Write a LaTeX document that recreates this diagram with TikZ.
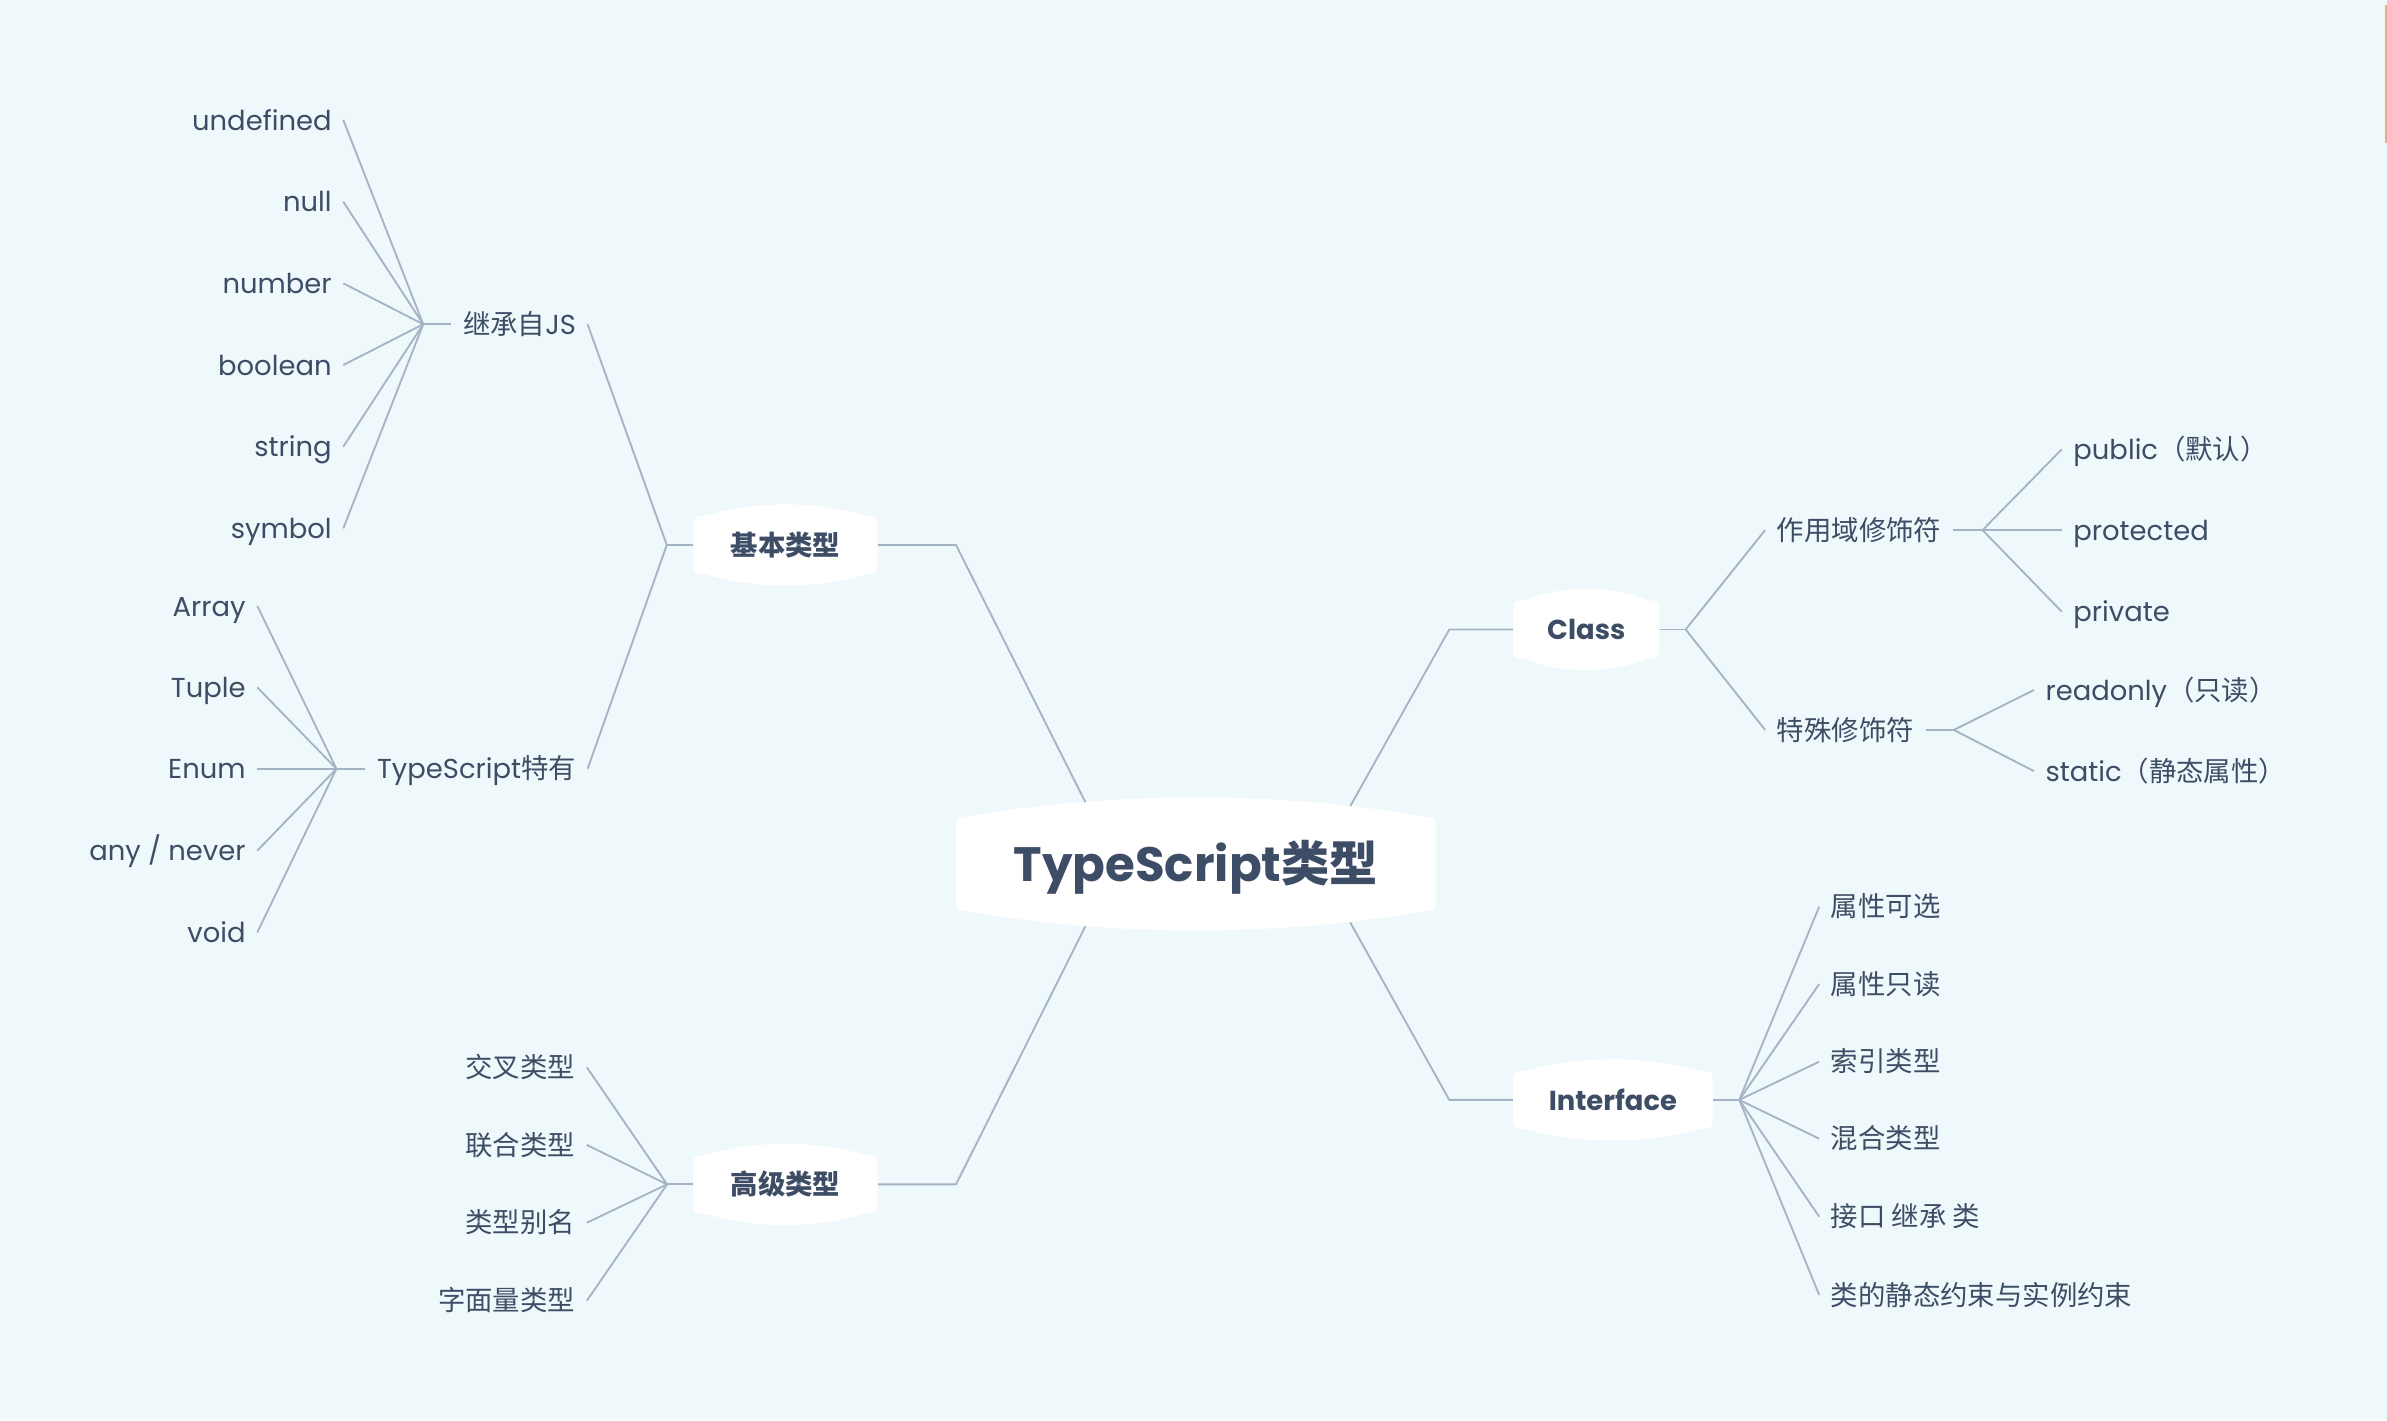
\documentclass[tikz,border=0pt]{standalone}
\usepackage{fontspec}
\setmainfont{Poppins}
\newfontfamily\cjk{Noto Sans CJK SC}
\definecolor{bgc}{HTML}{EFF8FA}
\definecolor{txt}{HTML}{3E4D66}
\definecolor{ln}{HTML}{A5B4C5}
\definecolor{redl}{HTML}{F2A491}
\newcommand\mmbubble[5]{%
 \fill[white] ({#1-#3},{#2-#4+7}) -- ({#1-#3},{#2+#4-7})
   .. controls ({#1-#3},{#2+#4}) .. ({#1-#3+9},{#2+#4+1})
   .. controls ({#1-#3/3},{#2+#4+1.33*#5}) and ({#1+#3/3},{#2+#4+1.33*#5}) .. ({#1+#3-9},{#2+#4+1})
   .. controls ({#1+#3},{#2+#4}) .. ({#1+#3},{#2+#4-7})
   -- ({#1+#3},{#2-#4+7})
   .. controls ({#1+#3},{#2-#4}) .. ({#1+#3-9},{#2-#4-1})
   .. controls ({#1+#3/3},{#2-#4-1.33*#5}) and ({#1-#3/3},{#2-#4-1.33*#5}) .. ({#1-#3+9},{#2-#4-1})
   .. controls ({#1-#3},{#2-#4}) .. cycle;}
\tikzset{
 base/.style={text=txt, inner ysep=0pt, inner xsep=7.5pt, text height=15.8pt, text depth=2.5pt, font=\fontsize{18}{22}\selectfont},
 lf/.style={base, anchor=east},
 rt/.style={base, anchor=west},
 br/.style={text=txt, inner sep=0pt, text height=15.8pt, text depth=2.5pt, minimum height=37pt, font=\fontsize{18}{22}\selectfont\bfseries},
 ctr/.style={text=txt, inner sep=0pt, text height=28pt, text depth=4.4pt, font=\fontsize{31.7}{38}\selectfont\bfseries},
 link/.style={draw=ln, line width=1.2pt, line join=round},
}
\begin{document}
\begin{tikzpicture}[x=1pt,y=-1pt]
\fill[bgc] (0,0) rectangle (1568,933);
\useasboundingbox (0,0) rectangle (1568,933);
\draw[redl, line width=1.2pt] (1567.4,3.3) -- (1567.4,94);

% bubbles
\mmbubble{785.5}{567.5}{157.5}{30.5}{13}
\mmbubble{516}{358}{60.5}{18.5}{8}
\mmbubble{516}{778}{60.5}{18.5}{8}
\mmbubble{1042}{413.5}{48}{18.5}{8}
\mmbubble{1059.5}{722.5}{65.5}{18.5}{8}

% main nodes
\node[ctr, minimum width=315pt, minimum height=61pt] (c) at (785.5,567.5) {TypeScript{\cjk 类型}};
\node[br, minimum width=121pt] (jb) at (516,358) {{\cjk 基本类型}};
\node[br, minimum width=121pt] (gj) at (516,778) {{\cjk 高级类型}};
\node[br, minimum width=96pt] (cls) at (1042,413.5) {Class};
\node[br, minimum width=131pt] (itf) at (1059.5,722.5) {Interface};

% coordinates
\coordinate (c-nw) at (713,527);
\coordinate (c-ne) at (887,529.5);
\coordinate (c-sw) at (713,608.5);
\coordinate (c-se) at (887,606);
\coordinate (jb-elb) at (628,358);
\coordinate (gj-elb) at (628,778);
\coordinate (cls-elb) at (952,413.5);
\coordinate (itf-elb) at (952,722.5);
\coordinate (jb-hub) at (438,358);
\coordinate (gj-hub) at (438.2,778);
\coordinate (cls-hub) at (1107.3,413.5);
\coordinate (itf-hub) at (1142.5,722.5);
\coordinate (jc-hub) at (278,213);
\coordinate (ts-hub) at (221,505);
\coordinate (zy-hub) at (1302.3,348.2);
\coordinate (sx-hub) at (1283.4,479.5);

% second level
\node[lf] (jc) at (386,213) {{\cjk 继承自}JS};
\node[lf] (ts) at (386,505) {TypeScript{\cjk 特有}};
\node[rt] (zy) at (1159.5,348.2) {{\cjk 作用域修饰符}};
\node[rt] (sx) at (1159.5,479.5) {{\cjk 特殊修饰符}};

% leaves
\node[lf] (u1) at (225.5,78.8) {undefined};
\node[lf] (u2) at (225.5,132.5) {null};
\node[lf] (u3) at (225.5,186.1) {number};
\node[lf] (u4) at (225.5,239.8) {boolean};
\node[lf] (u5) at (225.5,293.4) {string};
\node[lf] (u6) at (225.5,347.1) {symbol};

\node[lf] (t1) at (169,398) {Array};
\node[lf] (t2) at (169,451.5) {Tuple};
\node[lf] (t3) at (169,505) {Enum};
\node[lf] (t4) at (169,558.8) {any / never};
\node[lf] (t5) at (169,612.5) {void};

\node[lf] (g1) at (385.5,701.1) {{\cjk 交叉类型}};
\node[lf] (g2) at (385.5,752.1) {{\cjk 联合类型}};
\node[lf] (g3) at (385.5,803.2) {{\cjk 类型别名}};
\node[lf] (g4) at (385.5,854.4) {{\cjk 字面量类型}};

\node[rt] (p1) at (1354.3,295.2) {public{\cjk （默认）}};
\node[rt] (p2) at (1354.3,348.2) {protected};
\node[rt] (p3) at (1354.3,401.8) {private};

\node[rt] (s1) at (1336,453.3) {readonly{\cjk （只读）}};
\node[rt] (s2) at (1336,506.5) {static{\cjk （静态属性）}};

\node[rt] (i1) at (1195,595.6) {{\cjk 属性可选}};
\node[rt] (i2) at (1195,646.4) {{\cjk 属性只读}};
\node[rt] (i3) at (1195,697.4) {{\cjk 索引类型}};
\node[rt] (i4) at (1195,748) {{\cjk 混合类型}};
\node[rt] (i5) at (1195,799.2) {{\cjk 接口 继承 类}};
\node[rt] (i6) at (1195,850.6) {{\cjk 类的静态约束与实例约束}};

% connectors
\draw[link] (jb.east) -- (jb-elb) -- (c-nw);
\draw[link] (gj.east) -- (gj-elb) -- (c-sw);
\draw[link] (c-ne) -- (cls-elb) -- (cls.west);
\draw[link] (c-se) -- (itf-elb) -- (itf.west);

\draw[link] (jb.west) -- (jb-hub);
\draw[link] (jb-hub) -- (jc.east);
\draw[link] (jb-hub) -- (ts.east);
\draw[link] (jc.west) -- (jc-hub);
\foreach \i in {1,...,6} \draw[link] (jc-hub) -- (u\i.east);
\draw[link] (ts.west) -- (ts-hub);
\foreach \i in {1,...,5} \draw[link] (ts-hub) -- (t\i.east);

\draw[link] (gj.west) -- (gj-hub);
\foreach \i in {1,...,4} \draw[link] (gj-hub) -- (g\i.east);

\draw[link] (cls.east) -- (cls-hub);
\draw[link] (cls-hub) -- (zy.west);
\draw[link] (cls-hub) -- (sx.west);
\draw[link] (zy.east) -- (zy-hub);
\foreach \i in {1,...,3} \draw[link] (zy-hub) -- (p\i.west);
\draw[link] (sx.east) -- (sx-hub);
\foreach \i in {1,2} \draw[link] (sx-hub) -- (s\i.west);

\draw[link] (itf.east) -- (itf-hub);
\foreach \i in {1,...,6} \draw[link] (itf-hub) -- (i\i.west);
\end{tikzpicture}
\end{document}
